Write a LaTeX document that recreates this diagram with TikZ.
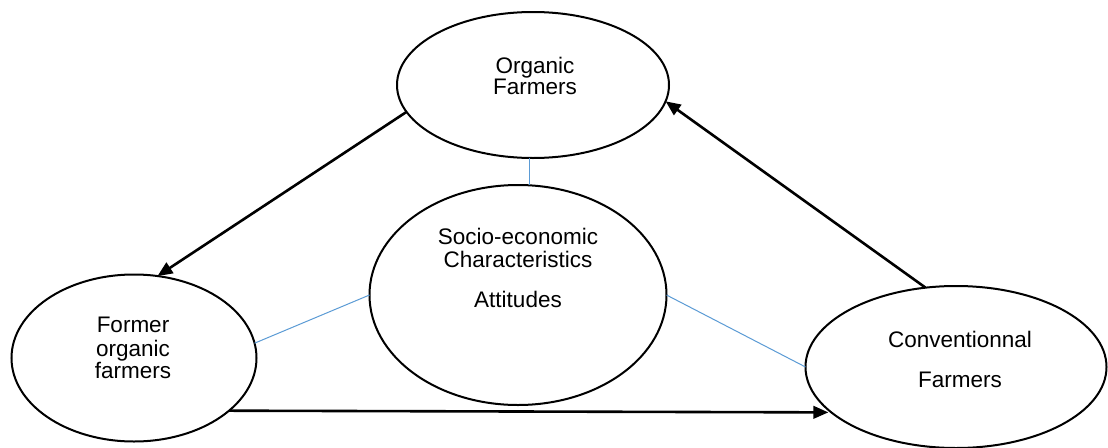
\documentclass[tikz,border=0pt]{standalone}
\usepackage{fontspec}
\setmainfont{Liberation Sans}
\usetikzlibrary{shapes.geometric,arrows.meta}
\definecolor{linkblue}{RGB}{91,155,213}
\begin{document}
\begin{tikzpicture}[x=1pt,y=-1pt,
  bubble/.style={draw=black,line width=2pt,ellipse,inner sep=0pt,outer sep=0pt},
  lbl/.style={anchor=base,font=\fontsize{22.5}{25}\selectfont,inner sep=0pt},
  flow/.style={line width=2.6pt,-{Triangle[length=15pt,width=12.5pt]}},
  link/.style={draw=linkblue,line width=1pt}]
\useasboundingbox[fill=white] (0,0) rectangle (1108,447);
% ellipses
\node[bubble,minimum width=272pt,minimum height=146pt] (org) at (533,85) {};
\node[bubble,minimum width=297pt,minimum height=220pt] (ctr) at (518,295) {};
\node[bubble,minimum width=245pt,minimum height=167pt] (fmr) at (134,358) {};
\node[bubble,minimum width=301pt,minimum height=162pt] (cnv) at (956,367) {};
% texts
\node[lbl] (t1) at (535,73) {Organic};
\node[lbl] (t2) at (535,94) {Farmers};
\node[lbl] (t3) at (518,244) {Socio-economic};
\node[lbl] (t4) at (518,267) {Characteristics};
\node[lbl] (t5) at (518,307) {Attitudes};
\node[lbl] (t6) at (133,332) {Former};
\node[lbl] (t7) at (133,356) {organic};
\node[lbl] (t8) at (133,378) {farmers};
\node[lbl] (t9) at (960,347) {Conventionnal};
\node[lbl] (t10) at (960,387) {Farmers};
% thin links
\draw[link] ([xshift=-4pt]org.south) -- ([xshift=-4pt]org.south |- ctr.north);
\draw[link] (fmr.7) -- (ctr.west);
\draw[link] (ctr.east) -- (cnv.west);
% arrows
\draw[flow] (org.192) -- (fmr.74.5);
\draw[flow] (cnv.111) -- (org.353);
\draw[flow] (fmr.331) -- ([xshift=-3pt]cnv.200);
\end{tikzpicture}
\end{document}
